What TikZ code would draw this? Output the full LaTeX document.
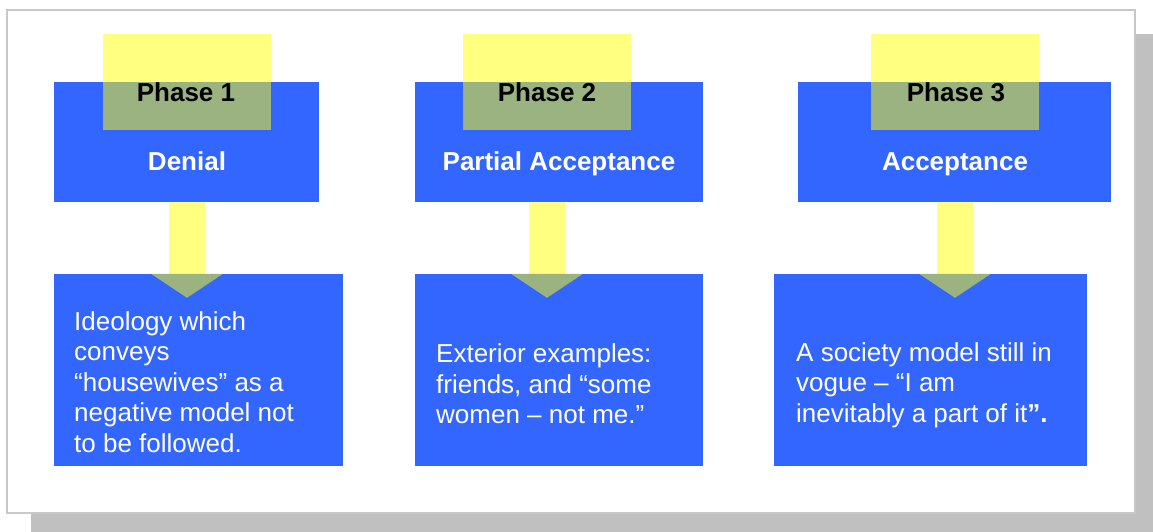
\documentclass[tikz,border=0pt]{standalone}
\usepackage{fontspec}
\setmainfont{Liberation Sans}
\definecolor{boxblue}{RGB}{51,102,255}
\definecolor{tabyellow}{RGB}{255,255,128}
\definecolor{tabgreen}{RGB}{154,179,128}
\definecolor{framegray}{RGB}{200,200,200}
\definecolor{shadowgray}{RGB}{192,192,192}
\tikzset{
  headbox/.style={fill=boxblue, inner sep=0pt, minimum height=120pt},
  bodybox/.style={fill=boxblue, inner sep=0pt, minimum height=192pt},
  tabbox/.style={fill=tabyellow, inner sep=0pt, minimum width=168pt, minimum height=96pt},
  phaselabel/.style={anchor=base, inner sep=0pt, font=\fontsize{26}{30}\selectfont\bfseries},
  headlabel/.style={anchor=base, inner sep=0pt, text=white, font=\fontsize{26}{30}\selectfont\bfseries},
  bodylabel/.style={anchor=west, inner sep=0pt, align=left, text=white, font=\fontsize{26}{30.5}\selectfont}
}
\begin{document}
\begin{tikzpicture}[x=1pt,y=-1pt]
        \useasboundingbox (0,0) rectangle (1153,532);
        
        % Shadow and frame
        \fill [shadowgray] (31,34) rectangle (1153,532);%
        \draw [framegray, fill=white, line width=2pt] (7,10) rectangle (1135,513);%
        
        % Phase 1 column
        \node [headbox, minimum width=265pt] (head1) at (186.5,142) {};%
        \node [tabbox] (tab1) at (187,82) {};%
        \fill [tabgreen] (tab1.west |- head1.north) rectangle (tab1.south east);%
        \node [phaselabel] (phase1) at (186,102) {Phase 1};%
        \node [headlabel] (name1) at (187,170) {Denial};%
        \node [bodybox, minimum width=289pt] (body1) at (198.5,370) {};%
        \fill [tabyellow] ([xshift=-18pt]tab1.south |- head1.south) rectangle ([xshift=18pt]tab1.south |- body1.north);%
        \fill [tabgreen] ([xshift=-36pt]tab1.south |- body1.north) -- ([xshift=36pt]tab1.south |- body1.north) -- ([yshift=-24pt]tab1.south |- body1.north) -- cycle;%
        \node [bodylabel] (text1) at (74,382) {Ideology which\\conveys\\“housewives” as a\\negative model not\\to be followed.};%
        
        % Phase 2 column
        \node [headbox, minimum width=288pt] (head2) at (559,142) {};%
        \node [tabbox] (tab2) at (547,82) {};%
        \fill [tabgreen] (tab2.west |- head2.north) rectangle (tab2.south east);%
        \node [phaselabel] (phase2) at (547,102) {Phase 2};%
        \node [headlabel] (name2) at (559,170) {Partial Acceptance};%
        \node [bodybox, minimum width=288pt] (body2) at (559,370) {};%
        \fill [tabyellow] ([xshift=-18pt]tab2.south |- head2.south) rectangle ([xshift=18pt]tab2.south |- body2.north);%
        \fill [tabgreen] ([xshift=-36pt]tab2.south |- body2.north) -- ([xshift=36pt]tab2.south |- body2.north) -- ([yshift=-24pt]tab2.south |- body2.north) -- cycle;%
        \node [bodylabel] (text2) at (436,384) {Exterior examples:\\friends, and “some\\women – not me.”};%
        
        % Phase 3 column
        \node [headbox, minimum width=313pt] (head3) at (954.5,142) {};%
        \node [tabbox] (tab3) at (955,82) {};%
        \fill [tabgreen] (tab3.west |- head3.north) rectangle (tab3.south east);%
        \node [phaselabel] (phase3) at (956,102) {Phase 3};%
        \node [headlabel] (name3) at (955,170) {Acceptance};%
        \node [bodybox, minimum width=313pt] (body3) at (930.5,370) {};%
        \fill [tabyellow] ([xshift=-18pt]tab3.south |- head3.south) rectangle ([xshift=18pt]tab3.south |- body3.north);%
        \fill [tabgreen] ([xshift=-36pt]tab3.south |- body3.north) -- ([xshift=36pt]tab3.south |- body3.north) -- ([yshift=-24pt]tab3.south |- body3.north) -- cycle;%
        \node [bodylabel] (text3) at (796,385) {A society model still in\\vogue – “I am\\inevitably a part of it\textbf{”.}};%
    \end{tikzpicture}
\end{document}
